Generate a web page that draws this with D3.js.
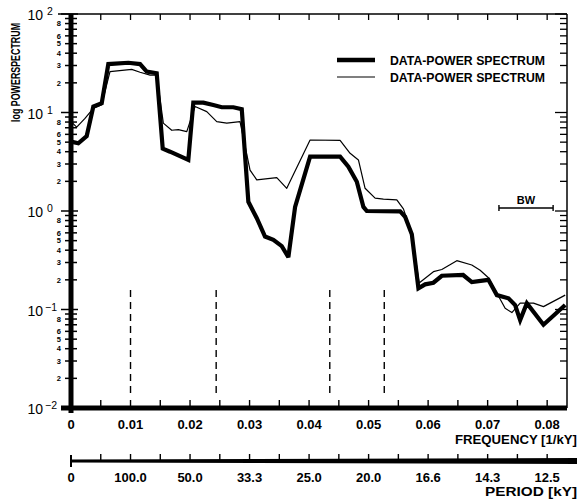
<!DOCTYPE html>
<html>
<head>
<meta charset="utf-8">
<script src="https://cdn.jsdelivr.net/npm/d3@7"></script>
<style>
  html, body { margin: 0; padding: 0; background: #fff; }
  svg { display: block; }
  text { font-family: "Liberation Sans", Arial, sans-serif; fill: #000; }
</style>
</head>
<body>
<svg id="chart" width="580" height="503"></svg>
<script>
// ---------------- DATA ----------------
// Thick curve (first DATA-POWER SPECTRUM)
const thickFreq = [0, 0.00123, 0.00264, 0.00375, 0.00516, 0.00627, 0.00963, 0.0116, 0.01272, 0.0144,
  0.01541, 0.01664, 0.01971, 0.02055, 0.02224, 0.02392, 0.02533, 0.02728, 0.02869, 0.0298,
  0.0312, 0.0326, 0.034, 0.03541, 0.03652, 0.03765, 0.04017, 0.04521, 0.0466, 0.04802,
  0.04913, 0.0497, 0.0553, 0.05613, 0.05726, 0.05837, 0.0595, 0.06089, 0.0623, 0.06588,
  0.06734, 0.07013, 0.07155, 0.0735, 0.07462, 0.07546, 0.07659, 0.07938, 0.08303];
const thickPower = [5.06, 4.87, 5.77, 11.5, 12.4, 31, 32, 31, 26, 25,
  4.3, 4.0, 3.3, 12.6, 12.6, 11.9, 11.3, 11.3, 10.8, 1.24,
  0.85, 0.55, 0.51, 0.44, 0.34, 1.1, 3.56, 3.56, 2.82, 1.98,
  1.1, 1.0, 0.99, 0.875, 0.58, 0.164, 0.18, 0.187, 0.22, 0.224,
  0.19, 0.2, 0.14, 0.13, 0.111, 0.078, 0.116, 0.07, 0.111];

// Thin curve (second DATA-POWER SPECTRUM)
const thinFreq = [0, 0.00096, 0.00235, 0.00375, 0.00516, 0.00655, 0.0102, 0.0116, 0.01328, 0.0144,
  0.01551, 0.01692, 0.01803, 0.01945, 0.02084, 0.02281, 0.02449, 0.02617, 0.0284, 0.03008,
  0.03121, 0.03457, 0.03625, 0.04017, 0.04521, 0.04689, 0.04829, 0.04941, 0.05109, 0.05249,
  0.05474, 0.05585, 0.05726, 0.05849, 0.06089, 0.0623, 0.06482, 0.06734, 0.06874, 0.07013,
  0.07126, 0.07294, 0.07407, 0.07546, 0.0777, 0.07938, 0.08303];
const thinPower = [8.07, 7.1, 8.7, 11, 12, 26, 27.4, 25.6, 24, 24,
  7.8, 6.6, 6.7, 6.4, 11.5, 10.2, 8.07, 7.8, 8.07, 2.6,
  2.07, 2.18, 1.7, 5.26, 5.2, 3.85, 3.3, 1.7, 1.35, 1.32,
  1.3, 1.05, 0.59, 0.186, 0.242, 0.255, 0.313, 0.283, 0.25, 0.21,
  0.158, 0.103, 0.093, 0.116, 0.116, 0.107, 0.14];

// Axis ticks
const freqTicks = [0, 0.01, 0.02, 0.03, 0.04, 0.05, 0.06, 0.07, 0.08];
const freqTickLabels = ["0", "0.01", "0.02", "0.03", "0.04", "0.05", "0.06", "0.07", "0.08"];
const periodTickLabels = ["0", "100.0", "50.0", "33.3", "25.0", "20.0", "16.6", "14.3", "12.5"];
const decadeExponents = [-2, -1, 0, 1, 2];
const minorLabelDigits = [2, 3, 4, 5, 6, 8];
// Milankovitch periods (kY) marked with dashed lines
const markerPeriods = [100, 41, 23, 19];
const legendLabels = ["DATA-POWER SPECTRUM", "DATA-POWER SPECTRUM"];
const bandwidthFreq = [0.0719, 0.0810];

// ---------------- DRAW ----------------
const svg = d3.select("#chart");
const xL = 71, xR = 567, yT = 14, yB = 408;
const x = d3.scaleLinear().domain([0, 1 / 12]).range([xL, xR]);
const y = d3.scaleLog().domain([0.01, 100]).range([yB, yT]);

const minorStep = d3.range(0, 1 / 12 + 1e-9, 0.005);

// top axis
svg.append("line").attr("x1", 58).attr("x2", xR).attr("y1", yT).attr("y2", yT)
  .attr("stroke", "#000").attr("stroke-width", 1.5);
svg.append("g").selectAll("line").data(minorStep.filter(d => d > 0)).join("line")
  .attr("x1", d => x(d)).attr("x2", d => x(d)).attr("y1", yT).attr("y2", yT + 6)
  .attr("stroke", "#000").attr("stroke-width", 1.3);

// right axis
svg.append("line").attr("x1", xR).attr("x2", xR).attr("y1", yT).attr("y2", yB)
  .attr("stroke", "#000").attr("stroke-width", 1.5);

// y ticks (left + right)
const minorVals = [];
decadeExponents.slice(0, -1).forEach(e => {
  for (let m = 2; m <= 9; m++) minorVals.push({ v: m * Math.pow(10, e), m: m });
});
const gy = svg.append("g");
gy.selectAll("line.minL").data(minorVals).join("line")
  .attr("x1", 65).attr("x2", 77).attr("y1", d => y(d.v)).attr("y2", d => y(d.v))
  .attr("stroke", "#000").attr("stroke-width", 1.5);
gy.selectAll("line.minR").data(minorVals).join("line").attr("class", "minR")
  .attr("x1", xR - 7).attr("x2", xR).attr("y1", d => y(d.v)).attr("y2", d => y(d.v))
  .attr("stroke", "#000").attr("stroke-width", 1.3);
gy.selectAll("text.minLab").data(minorVals.filter(d => minorLabelDigits.includes(d.m))).join("text")
  .attr("class", "minLab")
  .attr("x", 61).attr("y", d => y(d.v) + 2.8)
  .attr("text-anchor", "end").attr("font-size", 7.5).attr("font-weight", "bold")
  .text(d => d.m);
gy.selectAll("line.majL").data(decadeExponents).join("line").attr("class", "majL")
  .attr("x1", 61).attr("x2", 78).attr("y1", d => y(Math.pow(10, d))).attr("y2", d => y(Math.pow(10, d)))
  .attr("stroke", "#000").attr("stroke-width", 1.5);
gy.selectAll("line.majR").data(decadeExponents).join("line").attr("class", "majR")
  .attr("x1", xR - 12).attr("x2", xR).attr("y1", d => y(Math.pow(10, d))).attr("y2", d => y(Math.pow(10, d)))
  .attr("stroke", "#000").attr("stroke-width", 1.3);
const majLab = gy.selectAll("g.majLab").data(decadeExponents).join("g").attr("class", "majLab");
majLab.append("text").attr("x", 43).attr("y", d => y(Math.pow(10, d)) + 6)
  .attr("text-anchor", "end").attr("font-size", 14).text("10");
majLab.append("text").attr("x", d => d < 0 ? 45 : 47).attr("y", d => y(Math.pow(10, d)) + 1)
  .attr("text-anchor", "start").attr("font-size", 10.5).text(d => d < 0 ? "\u2212" + Math.abs(d) : d);

// left axis (thick)
svg.append("line").attr("x1", xL).attr("x2", xL).attr("y1", yT).attr("y2", yB + 5)
  .attr("stroke", "#000").attr("stroke-width", 5);

// y title (horizontally condensed via scale so its natural box fits)
svg.append("text").attr("transform", "translate(20,122) rotate(-90) scale(0.74,1)")
  .attr("font-size", 12).attr("font-weight", "bold")
  .text("log POWERSPECTRUM");

// dashed marker lines
svg.append("g").selectAll("line").data(markerPeriods).join("line")
  .attr("x1", d => x(1 / d)).attr("x2", d => x(1 / d)).attr("y1", 290).attr("y2", 398)
  .attr("stroke", "#000").attr("stroke-width", 1.4).attr("stroke-dasharray", "7,5");

// curves
const line = d3.line().x(d => x(d[0])).y(d => y(d[1])).curve(d3.curveLinear);
svg.append("path").datum(thinFreq.map((f, i) => [f, thinPower[i]]))
  .attr("d", line).attr("fill", "none").attr("stroke", "#000").attr("stroke-width", 1.2)
  .attr("stroke-linejoin", "round");
svg.append("path").datum(thickFreq.map((f, i) => [f, thickPower[i]]))
  .attr("d", line).attr("fill", "none").attr("stroke", "#000").attr("stroke-width", 4.2)
  .attr("stroke-linejoin", "miter").attr("stroke-miterlimit", 3);

// bottom axis (thick)
svg.append("line").attr("x1", 61).attr("x2", xR).attr("y1", yB).attr("y2", yB)
  .attr("stroke", "#000").attr("stroke-width", 5);
svg.append("g").selectAll("line").data(minorStep.filter(d => d > 0)).join("line")
  .attr("x1", d => x(d)).attr("x2", d => x(d)).attr("y1", yB).attr("y2", yB - 8)
  .attr("stroke", "#000").attr("stroke-width", 1.4);
svg.append("g").selectAll("text").data(freqTicks).join("text")
  .attr("x", d => x(d)).attr("y", 429).attr("text-anchor", "middle")
  .attr("font-size", 13).attr("font-weight", "bold")
  .text((d, i) => freqTickLabels[i]);
svg.append("text").attr("x", 577).attr("y", 444).attr("text-anchor", "end")
  .attr("font-size", 13).attr("font-weight", "bold")
  .attr("textLength", 122).attr("lengthAdjust", "spacingAndGlyphs")
  .text("FREQUENCY [1/kY]");

// period axis (tapered thick line)
const pY = 461;
svg.append("path")
  .attr("d", `M${xL},${pY - 1.5} L577,${pY - 3} L577,${pY + 3} L${xL},${pY + 1.5} Z`)
  .attr("fill", "#000");
svg.append("g").selectAll("line").data(minorStep.filter(d => d > 0)).join("line")
  .attr("x1", d => x(d)).attr("x2", d => x(d)).attr("y1", pY).attr("y2", pY - 7)
  .attr("stroke", "#000").attr("stroke-width", 1.4);
svg.append("line").attr("x1", xL).attr("x2", xL).attr("y1", pY - 6).attr("y2", pY + 6)
  .attr("stroke", "#000").attr("stroke-width", 2);
svg.append("g").selectAll("text").data(freqTicks).join("text")
  .attr("x", d => x(d)).attr("y", 482).attr("text-anchor", "middle")
  .attr("font-size", 13).attr("font-weight", "bold")
  .text((d, i) => periodTickLabels[i]);
svg.append("text").attr("x", 577).attr("y", 496).attr("text-anchor", "end")
  .attr("font-size", 13).attr("font-weight", "bold")
  .attr("textLength", 92).attr("lengthAdjust", "spacingAndGlyphs")
  .text("PERIOD [kY]");

// legend
const leg = svg.append("g");
const legY = [60, 77], legW = [4.5, 1.2];
legendLabels.forEach((t, i) => {
  leg.append("line").attr("x1", 337).attr("x2", 375).attr("y1", legY[i]).attr("y2", legY[i])
    .attr("stroke", "#000").attr("stroke-width", legW[i]);
  leg.append("text").attr("x", 390).attr("y", legY[i] + 4.5)
    .attr("font-size", 12).attr("font-weight", "bold")
    .attr("textLength", 155).attr("lengthAdjust", "spacingAndGlyphs").text(t);
});

// bandwidth marker
const bwY = 208;
svg.append("line").attr("x1", x(bandwidthFreq[0])).attr("x2", x(bandwidthFreq[1]))
  .attr("y1", bwY).attr("y2", bwY).attr("stroke", "#000").attr("stroke-width", 1.4);
bandwidthFreq.forEach(f => svg.append("line").attr("x1", x(f)).attr("x2", x(f))
  .attr("y1", bwY - 3).attr("y2", bwY + 3).attr("stroke", "#000").attr("stroke-width", 1.4));
svg.append("text").attr("x", (x(bandwidthFreq[0]) + x(bandwidthFreq[1])) / 2).attr("y", 204)
  .attr("text-anchor", "middle").attr("font-size", 11).attr("font-weight", "bold").text("BW");
</script>
</body>
</html>
